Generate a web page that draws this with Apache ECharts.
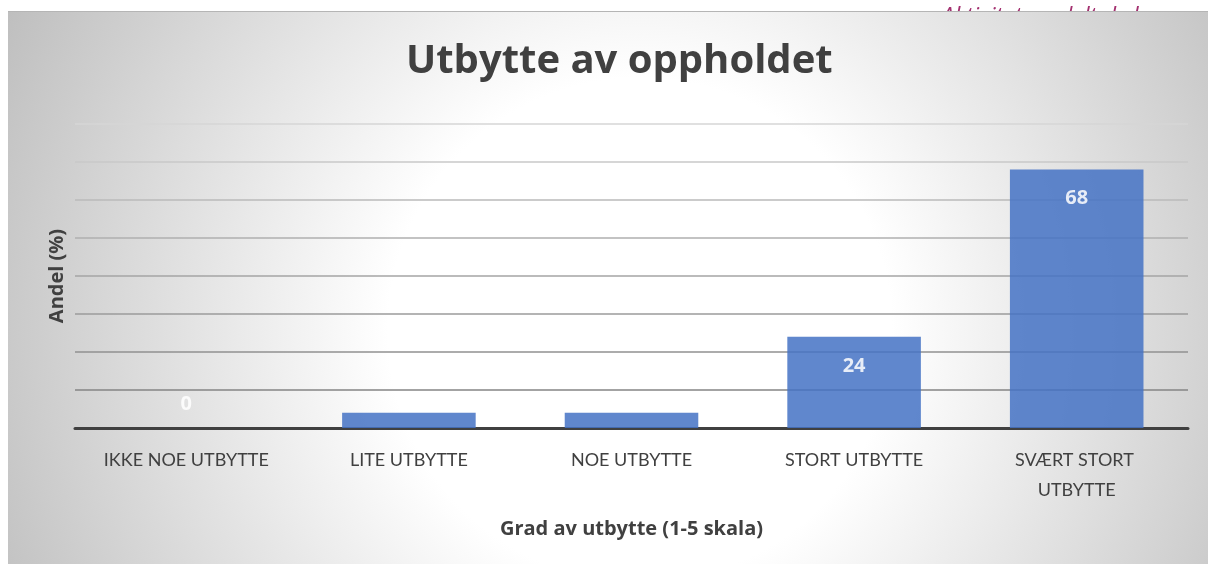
<!DOCTYPE html>
<html>
<head>
<meta charset="utf-8">
<style>
  html, body { margin: 0; padding: 0; background: #ffffff; }
  #chart { width: 1208px; height: 564px; }
</style>
<script src="https://cdn.jsdelivr.net/npm/echarts@6/dist/echarts.min.js"></script>
</head>
<body>
<div id="chart"></div>
<script>
const titleText = 'Utbytte av oppholdet';
const headerText = 'Aktivitet og deltakelse';
const categories = ['IKKE NOE UTBYTTE', 'LITE UTBYTTE', 'NOE UTBYTTE', 'STORT UTBYTTE', 'SVÆRT STORT UTBYTTE'];
const values = [0, 4, 4, 24, 68];
const yAxisName = 'Andel (%)';
const xAxisName = 'Grad av utbytte (1-5 skala)';

const chart = echarts.init(document.getElementById('chart'), null, { renderer: 'canvas' });

// zero bar: label above the baseline; very short bars: label not shown (as in the reference)
const barData = values.map(v => {
  if (v === 0) return { value: v, label: { position: 'top', distance: 14 } };
  if (v < 8) return { value: v, label: { show: false } };
  return v;
});

const option = {
  backgroundColor: '#ffffff',
  animation: false,
  graphic: [
    {
      type: 'rect', z: -10, silent: true,
      shape: { x: 8, y: 11, width: 1200, height: 553 },
      style: {
        fill: {
          type: 'radial', x: 640, y: 330, r: 720, global: true,
          colorStops: [
            { offset: 0, color: '#ffffff' },
            { offset: 0.35, color: '#ffffff' },
            { offset: 1, color: '#bdbdbd' }
          ]
        }
      }
    },
    {
      type: 'line', z: -9, silent: true,
      shape: { x1: 8, y1: 11.5, x2: 1208, y2: 11.5 },
      style: { stroke: '#b5b5b5', lineWidth: 1 }
    },
    {
      type: 'text', z: -11, silent: true,
      style: {
        text: headerText, x: 1160, y: 6, align: 'right', verticalAlign: 'alphabetic',
        font: 'italic 23px "Open Sans", sans-serif', fill: '#a3306f'
      }
    }
  ],
  title: {
    text: titleText,
    left: 401,
    top: 37,
    textStyle: { fontFamily: 'Open Sans', fontWeight: 'bold', fontSize: 40, color: '#404040' }
  },
  grid: { left: 75, right: 20, top: 124, bottom: 136 },
  xAxis: {
    type: 'category',
    data: categories,
    name: xAxisName,
    nameLocation: 'middle',
    nameGap: 91,
    nameTextStyle: { fontFamily: 'Open Sans', fontWeight: 'bold', fontSize: 20, color: '#404040' },
    axisLine: { lineStyle: { color: '#404040', width: 3 } },
    axisTick: { show: false },
    axisLabel: {
      interval: 0, margin: 17, width: 185, overflow: 'break',
      fontFamily: 'Lato', fontSize: 18, color: '#404040', lineHeight: 30
    }
  },
  yAxis: {
    type: 'value', min: 0, max: 80, interval: 10,
    name: yAxisName,
    nameLocation: 'middle',
    nameRotate: 90,
    nameGap: 8,
    nameTextStyle: { fontFamily: 'Open Sans', fontWeight: 'bold', fontSize: 20, color: '#404040' },
    axisLine: { show: false },
    axisTick: { show: false },
    axisLabel: { show: false },
    splitLine: {
      lineStyle: {
        width: 1.5,
        color: ['#777777', '#858585', '#919191', '#9b9b9b', '#a5a5a5', '#afafaf', '#bababa', '#c8c8c8', '#d6d6d6']
      }
    }
  },
  series: [{
    type: 'bar',
    data: barData,
    barWidth: '60%',
    itemStyle: { color: '#4472C4', opacity: 0.85 },
    label: {
      show: true, position: 'insideTop', distance: 19,
      fontFamily: 'Open Sans', fontWeight: 'bold', fontSize: 20, color: '#ffffff'
    }
  }]
};
chart.setOption(option);
</script>
</body>
</html>
